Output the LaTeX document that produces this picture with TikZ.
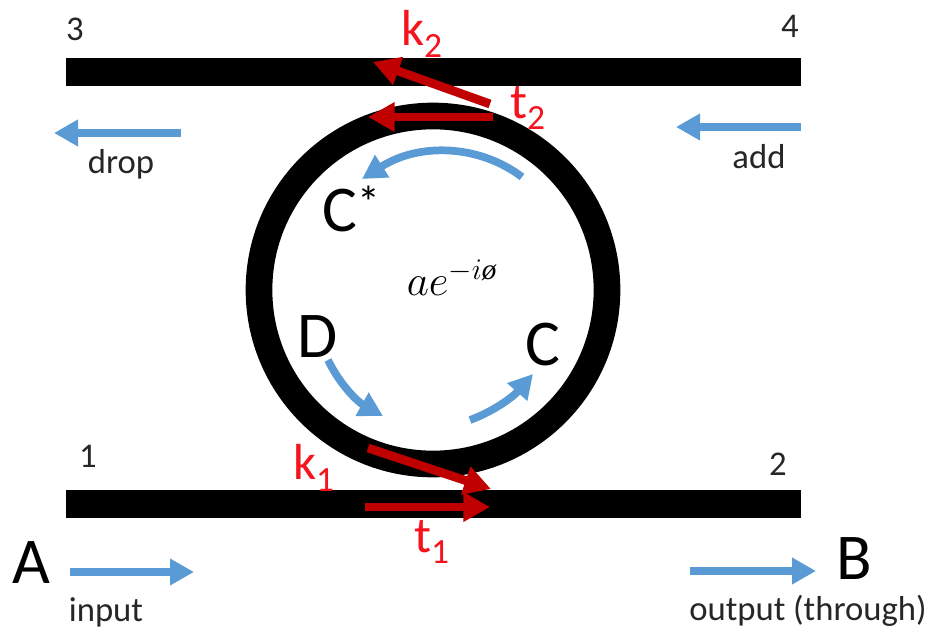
\documentclass[tikz,border=0pt]{standalone}
\usepackage{fontspec}
\usepackage{amsmath}
\setmainfont{Carlito}
\newfontfamily\mathserif{Liberation Serif}
\usetikzlibrary{arrows.meta}
\definecolor{wgblue}{HTML}{5B9BD5}
\definecolor{wgred}{HTML}{C00000}
\definecolor{lblred}{HTML}{F5141E}
\tikzset{
	waveguide/.style={fill=black, draw=none},
	ringline/.style={draw=black, line width=20pt},
	bluearrow/.style={-{Triangle[length=18pt,width=19pt]}, draw=wgblue, line width=5.8pt},
	redarrow/.style={-{Triangle[length=20pt,width=21pt]}, draw=wgred, line width=6.6pt},
	smalllabel/.style={font=\fontsize{26}{30}\selectfont, text=black!85, inner sep=0pt},
	biglabel/.style={font=\fontsize{49}{56}\selectfont, text=black, inner sep=0pt},
	redlabel/.style={font=\fontsize{38}{44}\selectfont, text=lblred, inner sep=0pt}
}
\begin{document}
\begin{tikzpicture}[x=0.75pt, y=-0.75pt]
	\useasboundingbox (0,0) rectangle (932,630);
	% waveguides and ring
	\fill[waveguide] (66,58) rectangle (801,86);
	\fill[waveguide] (66,490) rectangle (801,518);
	\draw[ringline] (433,290) circle (174);
	% end points of the arrows
	\path
	(181,133) coordinate (dropstart)
	(54,133) coordinate (dropend)
	(801,127) coordinate (addstart)
	(676,127) coordinate (addend)
	(70,572) coordinate (inputstart)
	(194,572) coordinate (inputend)
	(690,571) coordinate (throughstart)
	(816,571) coordinate (throughend)
	(522,177) coordinate (cstarstart)
	(362,179) coordinate (cstarend)
	(328,360) coordinate (dstart)
	(383,416) coordinate (dend)
	(470,420) coordinate (cstart)
	(533,374) coordinate (cend)
	(490,104) coordinate (ktwostart)
	(373,62) coordinate (ktwoend)
	(493,117) coordinate (ttwostart)
	(368,117) coordinate (ttwoend)
	(368,448) coordinate (konestart)
	(491,489) coordinate (koneend)
	(365,507) coordinate (tonestart)
	(490,507) coordinate (toneend);
	% straight arrows
	\draw[bluearrow] (dropstart) -- (dropend);
	\draw[bluearrow] (addstart) -- (addend);
	\draw[bluearrow] (inputstart) -- (inputend);
	\draw[bluearrow] (throughstart) -- (throughend);
	\draw[bluearrow] (cstarstart) .. controls (480,145) and (420,142) .. (cstarend);
	\draw[bluearrow] (dstart) .. controls (340,385) and (358,402) .. (dend);
	\draw[bluearrow] (cstart) .. controls (492,412) and (512,398) .. (cend);
	\draw[redarrow] (ktwostart) -- (ktwoend);
	\draw[redarrow] (ttwostart) -- (ttwoend);
	\draw[redarrow] (konestart) -- (koneend);
	\draw[redarrow] (tonestart) -- (toneend);
	% labels
	\node[smalllabel] (portthree) at (75,29) {3};
	\node[smalllabel] (portfour) at (790,26) {4};
	\node[smalllabel] (portone) at (88,456) {1};
	\node[smalllabel] (porttwo) at (778,464) {2};
	\node[smalllabel] (droplabel) at (121,164) {drop};
	\node[smalllabel] (addlabel) at (759,157) {add};
	\node[smalllabel] (inputlabel) at (106,612) {input};
	\node[smalllabel] (throughlabel) at (808,611) {output (through)};
	\node[biglabel] (alabel) at (31,563) {A};
	\node[biglabel] (blabel) at (854,559) {B};
	\node[biglabel] (cstarlabel) at (352,209) {C\textsuperscript{*}};
	\node[biglabel] (dlabel) at (318,337) {D};
	\node[biglabel] (clabel) at (543,345) {C};
	\node[redlabel] (konelabel) at (314,468) {k\textsubscript{1}};
	\node[redlabel] (tonelabel) at (432,542) {t\textsubscript{1}};
	\node[redlabel] (ktwolabel) at (422,34) {k\textsubscript{2}};
	\node[redlabel] (ttwolabel) at (528,108) {t\textsubscript{2}};
	\node[font=\fontsize{24}{28}\selectfont, scale=1.3] (ringlabel) at (452,278) {$ae^{-i\text{\mathserif\itshape ø}}$};
\end{tikzpicture}
\end{document}
